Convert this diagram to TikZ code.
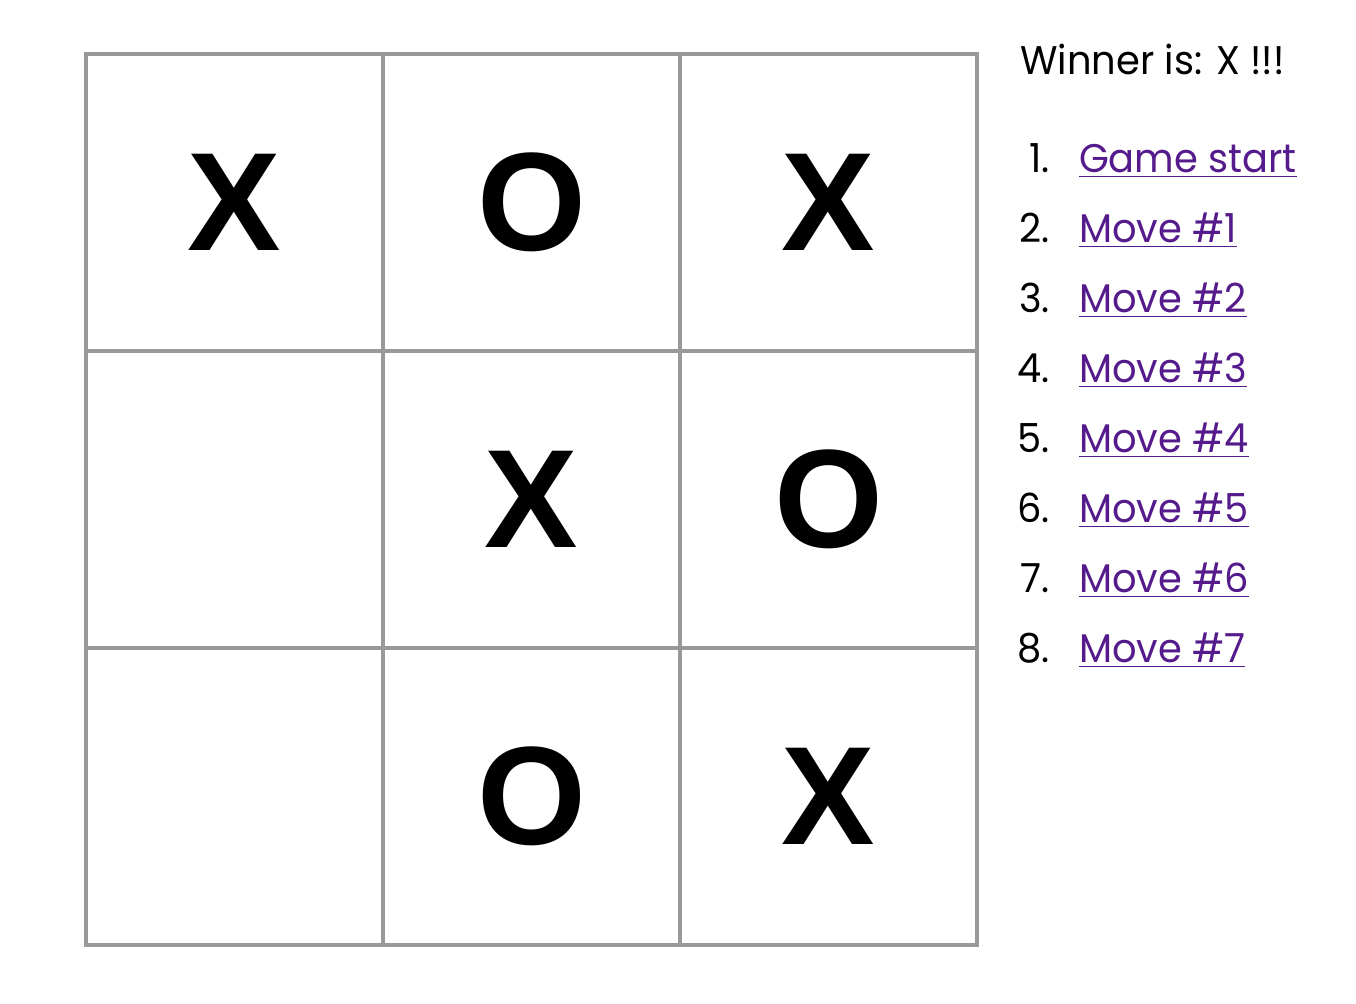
\documentclass[tikz,border=0pt]{standalone}
\usepackage{fontspec}
\setmainfont{Poppins}[FakeStretch=0.96]
\newfontfamily\markfont{Liberation Sans}
\usetikzlibrary{positioning}
\definecolor{gridgray}{RGB}{153,153,153}
\definecolor{linkpurple}{RGB}{85,26,139}
\tikzstyle{cell}=[rectangle, draw=gridgray, line width=2pt, minimum size=148.5pt,
                  inner sep=0pt, outer sep=0pt,
                  font=\markfont\bfseries\fontsize{70}{70}\selectfont]
\tikzstyle{numbox}=[inner sep=0pt, outer sep=0pt, text width=22pt, align=right,
                    text height=22pt, text depth=13pt, font=\fontsize{20}{20}\selectfont]
\tikzstyle{linkbox}=[inner sep=0pt, outer sep=0pt, text height=22pt, text depth=13pt,
                     text=linkpurple, font=\fontsize{20}{20}\selectfont]
\begin{document}
\begin{tikzpicture}[node distance=0pt]
\useasboundingbox (0,0) rectangle (678pt,-502pt);

\node (TL) [cell] at (117.25pt,-101.25pt) {X};
\node (TM) [cell,right=0pt of TL] {O};
\node (TR) [cell,right=0pt of TM] {X};
\node (ML) [cell,below=0pt of TL] {};
\node (MM) [cell,right=0pt of ML] {X};
\node (MR) [cell,right=0pt of MM] {O};
\node (BL) [cell,below=0pt of ML] {};
\node (BM) [cell,right=0pt of BL] {O};
\node (BR) [cell,right=0pt of BM] {X};

\node (WINNER) [anchor=base west, inner sep=0pt, font=\fontsize{20}{20}\selectfont]
  at (510pt,-37.5pt) {Winner is: X !!!};

\node (NUM1) [numbox, anchor=base east] at (525pt,-86.5pt) {1.};
\node (LNK1) [linkbox,right=14.5pt of NUM1] {\underline{Game start}};
\node (NUM2) [numbox,below=0pt of NUM1] {2.};
\node (LNK2) [linkbox,right=14.5pt of NUM2] {\underline{Move \#1}};
\node (NUM3) [numbox,below=0pt of NUM2] {3.};
\node (LNK3) [linkbox,right=14.5pt of NUM3] {\underline{Move \#2}};
\node (NUM4) [numbox,below=0pt of NUM3] {4.};
\node (LNK4) [linkbox,right=14.5pt of NUM4] {\underline{Move \#3}};
\node (NUM5) [numbox,below=0pt of NUM4] {5.};
\node (LNK5) [linkbox,right=14.5pt of NUM5] {\underline{Move \#4}};
\node (NUM6) [numbox,below=0pt of NUM5] {6.};
\node (LNK6) [linkbox,right=14.5pt of NUM6] {\underline{Move \#5}};
\node (NUM7) [numbox,below=0pt of NUM6] {7.};
\node (LNK7) [linkbox,right=14.5pt of NUM7] {\underline{Move \#6}};
\node (NUM8) [numbox,below=0pt of NUM7] {8.};
\node (LNK8) [linkbox,right=14.5pt of NUM8] {\underline{Move \#7}};

\end{tikzpicture}
\end{document}
